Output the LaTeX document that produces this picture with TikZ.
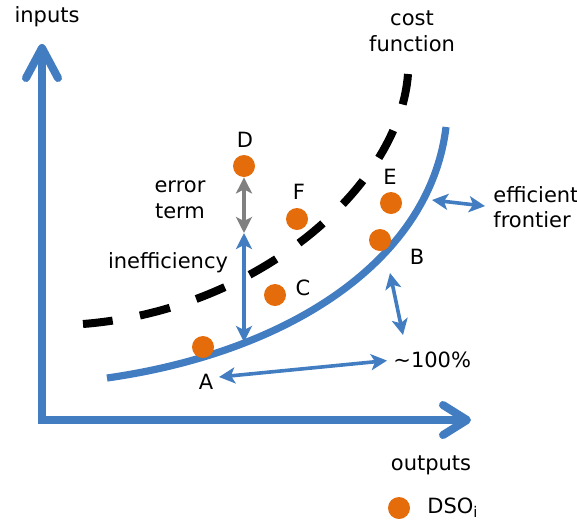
\documentclass[tikz,border=0pt]{standalone}
\usepackage{fontspec}
\setmainfont{DejaVu Sans}
\usepackage{xcolor}
\usetikzlibrary{arrows.meta}
\definecolor{axisblue}{RGB}{65,125,192}
\definecolor{dsoorange}{RGB}{228,108,10}
\definecolor{errgray}{RGB}{128,128,128}

\begin{document}
\begin{tikzpicture}[
    x=0.5pt, y=-0.5pt,
    font=\fontsize{10.5}{12.8}\selectfont,
    txt/.style={inner sep=0pt, align=center},
    dso/.style={circle, fill=dsoorange, inner sep=0pt, minimum size=11pt},
    axis/.style={draw=axisblue, line width=4pt, line join=miter},
    frontier/.style={draw=axisblue, line width=3.6pt},
    costfn/.style={draw=black, line width=4pt, dash pattern=on 15.5pt off 13.85pt},
    arr/.style={{Stealth[length=8pt,width=8pt,inset=2pt]}-{Stealth[length=8pt,width=8pt,inset=2pt]}, draw=axisblue, line width=1.8pt},
    errarr/.style={arr, draw=errgray}
]
\useasboundingbox (0,0) rectangle (577,520);
\coordinate (origin) at (42,420);
\coordinate (ytip)   at (42,44);
\coordinate (xtip)   at (471,420);
\draw[axis, {Straight Barb[length=15pt, width=16pt, round]}-{Straight Barb[length=12pt, width=15pt, round]}] (ytip) -- (origin) -- (xtip);
\node[txt] (inputs)  at (47,17)  {inputs};
\node[txt] (outputs) at (431,465) {outputs};
\node[txt] (costlbl) at (412,31) {cost\\function};
\draw[costfn] (408,74) .. controls (400,185) and (260,310) .. (83,324);
\draw[frontier] (107,378) .. controls (290,352) and (430,260) .. (446,127);
\node[dso] (dotA) at (203,347) {};
\node[dso] (dotB) at (380,240) {};
\node[dso] (dotC) at (275,295) {};
\node[dso] (dotD) at (244,166) {};
\node[dso] (dotE) at (391,203) {};
\node[dso] (dotF) at (297,219) {};
\node[txt] (labA) at (206,382) {A};
\node[txt] (labB) at (417,257) {B};
\node[txt] (labC) at (303,288) {C};
\node[txt] (labD) at (245,140) {D};
\node[txt] (labE) at (390,177) {E};
\node[txt] (labF) at (299,192) {F};
\node[txt] (errlbl) at (180,200) {error\\term};
\node[txt] (ineflbl) at (168,263) {inefficiency};
\node[txt, align=left, anchor=west] (frontlbl) at (493,207) {efficient\\frontier};
\node[txt, anchor=west] (pct) at (393,360) {\textasciitilde100\%};
\coordinate (errlow)  at (244,233);
\coordinate (ineflow) at (244,342);
\coordinate (frontpt) at (432,200);
\coordinate (gaptop)  at (390,273);
\coordinate (gapbot)  at (403,335);
\coordinate (pctleft) at (219,377);
\draw[errarr] (dotD) -- (errlow);
\draw[arr] (errlow) -- (ineflow);
\draw[arr, shorten >=4pt] (frontpt) -- (frontlbl.west);
\draw[arr] (gaptop) -- (gapbot);
\draw[arr, shorten >=3pt] (pctleft) -- (pct.west);
\node[dso] (legdot) at (399,508) {};
\node[txt, anchor=west] (leglbl) at (427,508) {DSO\textsubscript{i}};
\end{tikzpicture}
\end{document}
